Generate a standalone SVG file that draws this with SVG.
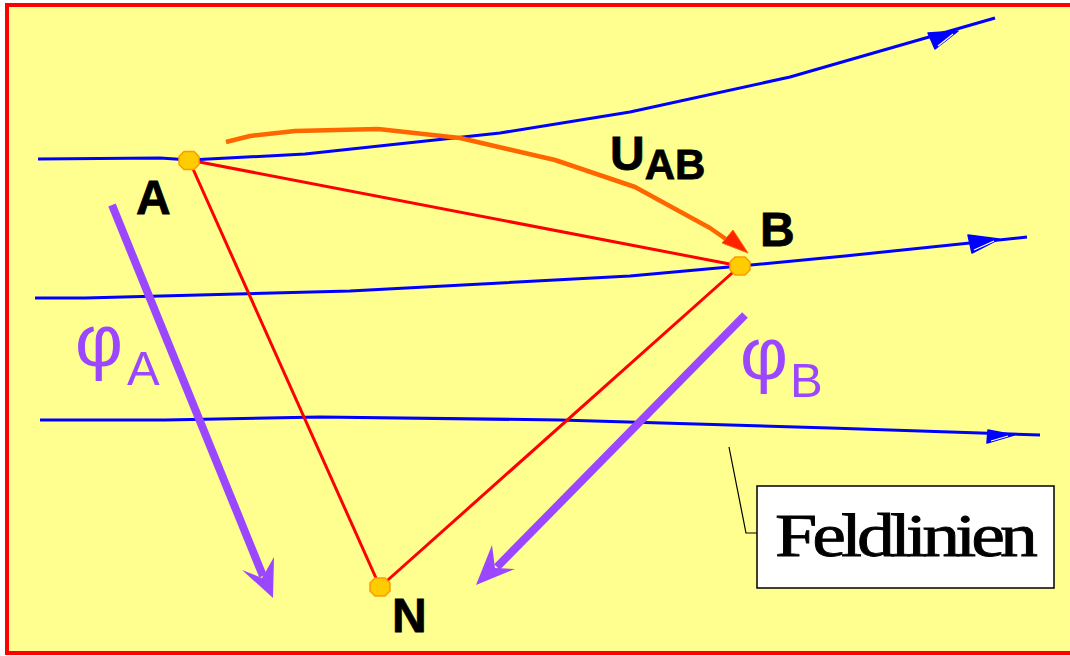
<svg xmlns="http://www.w3.org/2000/svg" width="1070" height="656" viewBox="0 0 1070 656">
<style>
.field{fill:none;stroke:#0000FF;stroke-width:3;stroke-linejoin:round}
.fhead{fill:#0000FF;stroke:#0000FF;stroke-width:1.5;stroke-linejoin:round}
.fstripe{stroke:#FFFFFF;stroke-width:1.2}
.red{fill:none;stroke:#FF0000;stroke-width:3}
.pot{fill:none;stroke:#9B47FF;stroke-width:8}
.pothead{fill:#9B47FF}
.lbl{font-family:"Liberation Sans",Arial,sans-serif;font-weight:bold;fill:#000;stroke:#000;stroke-width:0.8}
.phi{font-family:"Liberation Sans",Arial,sans-serif;fill:#9B47FF}
.dot{fill:#FFCC00;stroke:#FF9900;stroke-width:1.5}
</style>
<defs>
<path id="oct" d="M-5,-9 L5,-9 L10,-4 L10,4 L5,9 L-5,9 L-10,4 L-10,-4 Z"/>
</defs>
<rect x="7" y="5" width="1200" height="648" fill="#FFFF8F" stroke="#FF0000" stroke-width="4"/>

<g id="connectors">
  <g id="fieldline1">
    <polyline class="field" points="38,159 160,158 190,160 305,154 500,133 630,112 790,77 995,18"/>
    <polygon class="fhead" points="928,33 958,31 935,49"/>
    <line class="fstripe" x1="938" y1="46" x2="953" y2="34"/>
  </g>
  <g id="fieldline2">
    <polyline class="field" points="35,298 85,298 350,291 630,276 740,266 845,256 1027,237"/>
    <polygon class="fhead" points="968,235 999,239 972,253"/>
    <line class="fstripe" x1="974" y1="250" x2="994" y2="241"/>
  </g>
  <g id="fieldline3">
    <polyline class="field" points="40,420 165,420 320,417 560,420 830,428 1040,435"/>
    <polygon class="fhead" points="988,430 1014,435 987,443"/>
    <line class="fstripe" x1="991" y1="441" x2="1008" y2="436"/>
  </g>
  <line class="red" x1="189" y1="160" x2="740" y2="266"/>
  <line class="red" x1="189" y1="160" x2="380" y2="587"/>
  <line class="red" x1="740" y1="266" x2="380" y2="587"/>
  <g id="uab-arrow">
    <polyline fill="none" stroke="#FF6600" stroke-width="4.5" stroke-linejoin="round" points="226,142 250,136 295,131 378,129 460,138 555,160 635,187 710,228 733,244"/>
    <polygon points="722,243 733,230 748,253" fill="#FF2200" stroke="#FF6600" stroke-width="1"/>
  </g>
  <g id="phiA-arrow">
    <line class="pot" x1="112" y1="205" x2="263" y2="576"/>
    <polygon class="pothead" points="242,570 262,578 274,557 273,598"/>
  </g>
  <g id="phiB-arrow">
    <line class="pot" x1="745" y1="315" x2="497" y2="567"/>
    <polygon class="pothead" points="492,545 495,568 515,569 476,585"/>
  </g>
  <polyline fill="none" stroke="#000" stroke-width="1.2" points="729,447 746,533 757,533"/>
</g>

<g id="node-A">
  <use href="#oct" class="dot" transform="translate(189,160.5)"/>
  <text class="lbl" x="136" y="214" font-size="48">A</text>
</g>
<g id="node-B">
  <use href="#oct" class="dot" transform="translate(740,266)"/>
  <text class="lbl" x="760" y="246" font-size="48">B</text>
</g>
<g id="node-N">
  <use href="#oct" class="dot" transform="translate(380,587)"/>
  <text class="lbl" x="392" y="632" font-size="48">N</text>
</g>
<g id="label-UAB">
  <text class="lbl" x="610" y="170" font-size="48">U<tspan font-size="42" dy="9">AB</tspan></text>
</g>
<g id="label-phiA">
  <text class="phi" x="75" y="366" font-size="74">φ<tspan font-size="49" dy="19" dx="4">A</tspan></text>
</g>
<g id="label-phiB">
  <text class="phi" x="740" y="379" font-size="74">φ<tspan font-size="49" dy="18" dx="2">B</tspan></text>
</g>
<g id="label-feldlinien">
  <rect x="757" y="486" width="297" height="102" fill="#FFFFFF" stroke="#000" stroke-width="1.5"/>
  <text x="775" y="556" font-family="'Liberation Serif','Times New Roman',serif" font-size="61" letter-spacing="-4" textLength="258" lengthAdjust="spacingAndGlyphs" fill="#000" stroke="#000" stroke-width="0.8">Feldlinien</text>
</g>
</svg>
